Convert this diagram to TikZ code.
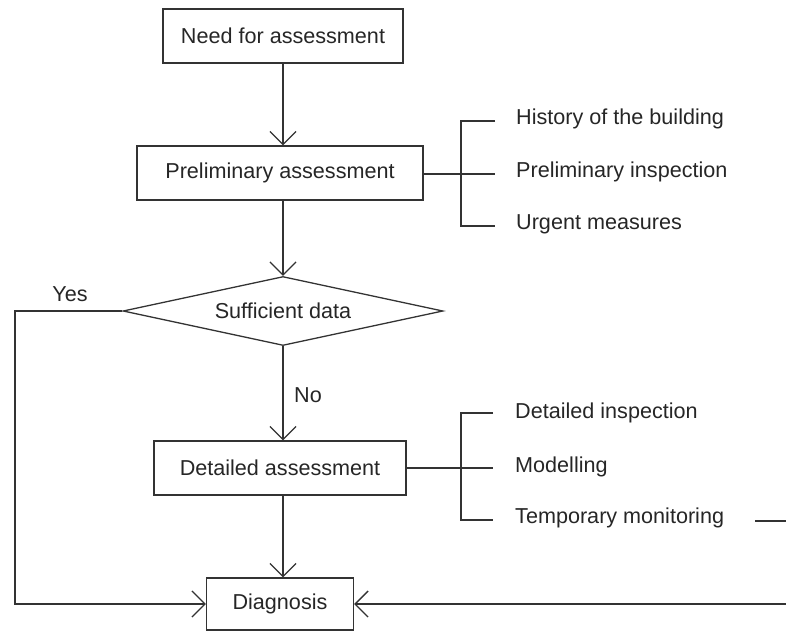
\documentclass[tikz,border=0pt]{standalone}
\usepackage{fontspec}
\setmainfont{Liberation Sans}
\usetikzlibrary{arrows.meta,shapes.geometric}
\begin{document}
\begin{tikzpicture}[x=1pt,y=-1pt,
  every node/.style={font=\fontsize{21.6}{26}\selectfont, text=black!85},
  line/.style={draw=black!80, line width=1.3pt},
  arr/.style={line, -{Straight Barb[length=13pt,width=26pt,line width=1.3pt]}},
  boxnode/.style={draw=black!80, line width=1.3pt, rectangle, minimum height=54pt, inner sep=0pt},
  decnode/.style={draw=black!80, line width=1.3pt, diamond, aspect=4.6, minimum width=320pt, minimum height=69pt, inner sep=0pt},
  sidenode/.style={anchor=west, inner sep=0pt}
]
\useasboundingbox (0,0) rectangle (786,632);

\node[boxnode, minimum width=240pt] (need) at (283,36) {Need for assessment};
\node[boxnode, minimum width=286pt] (prel) at (280,173) {Preliminary assessment};
\node[decnode] (dec) at (283,311) {Sufficient data};
\node[boxnode, minimum width=252pt] (det) at (280,468) {Detailed assessment};
\node[boxnode, minimum width=147pt, minimum height=52pt] (diag) at (280,604) {Diagnosis};

\node (yes) at (70,294) {Yes};
\node (no) at (308,395) {No};

% side items (preliminary)
\node[sidenode] (h1) at (516,119) {History of the building};
\node[sidenode] (h2) at (516,172) {Preliminary inspection};
\node[sidenode] (h3) at (516,224) {Urgent measures};
% side items (detailed)
\node[sidenode] (d1) at (515,413) {Detailed inspection};
\node[sidenode] (d2) at (515,467) {Modelling};
\node[sidenode] (d3) at (515,518) {Temporary monitoring};

% main flow
\draw[arr] (need.south) -- (need.south |- prel.north);
\draw[arr] (dec.north |- prel.south) -- (dec.north);
\draw[arr] (dec.south) -- (dec.south |- det.north);
\draw[arr] (dec.south |- det.south) -- (dec.south |- diag.north);

% brackets preliminary
\coordinate (pb1) at (461,121);
\coordinate (pb2) at (461,174);
\coordinate (pb3) at (461,226);
\draw[line] (prel.east |- pb2) -- (495,174);
\draw[line] (495,121) -- (pb1) -- (pb3) -- (495,226);

% brackets detailed
\coordinate (db1) at (461,413);
\coordinate (db2) at (461,468);
\coordinate (db3) at (461,520);
\draw[line] (det.east |- db2) -- (493,468);
\draw[line] (493,413) -- (db1) -- (db3) -- (493,520);

% yes branch
\coordinate (yl) at (15,311);
\draw[arr] (dec.west) -- (yl) |- (diag.west);

% right branch
\coordinate (rr) at (786,604);
\coordinate (tm1) at (755,521);
\coordinate (tm2) at (786,521);
\draw[line] (tm1) -- (tm2);
\draw[arr] (rr) -- (diag.east);
\end{tikzpicture}
\end{document}
